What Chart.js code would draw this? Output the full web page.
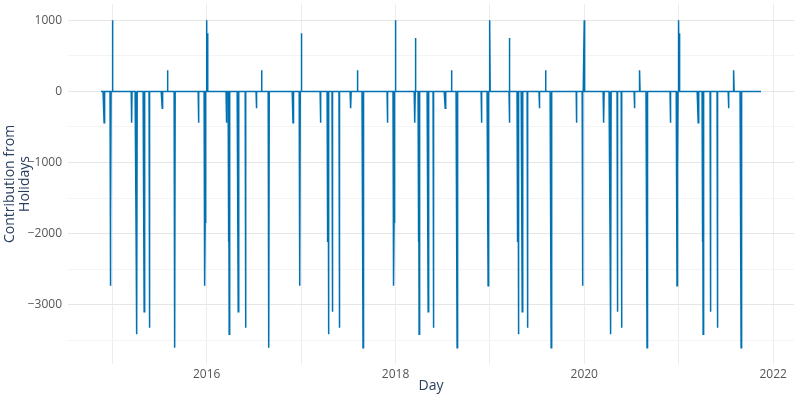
<!DOCTYPE html>
<html>
<head>
<meta charset="utf-8">
<script src="https://cdn.jsdelivr.net/npm/chart.js@4.4.1/dist/chart.umd.min.js"></script>
<style>
  html, body { margin: 0; padding: 0; background: #fff; }
</style>
</head>
<body>
<canvas id="grafico" width="800" height="400"></canvas>
<script>
// daily series runs from firstDay to lastDay, zero on non-holiday days
const firstDay = '2014-11-18';
const lastDay = '2021-11-15';

const holidayNames = [
  "New Year's Day", "New Year Holiday", "St. Patrick's Day", "St. Patrick's Day (Observed)",
  "Good Friday", "Easter Monday", "May Day", "Spring Bank Holiday", "Battle of the Boyne",
  "Summer Bank Holiday [Scotland]", "Late Summer Bank Holiday", "St. Andrew's Day",
  "Christmas Day", "Boxing Day", "Christmas Day (Observed)", "Boxing Day (Observed)"
];
const holidayEffects = [
  1000, 820, -440, 750,
  -2120, -3415, -3100, -3325, -237,
  298, -3608, -440,
  -2735, -1840, -2570, -1150
];
const holidayDates = [
  ['2015-01-01', '2016-01-01', '2018-01-01', '2019-01-01', '2020-01-01', '2021-01-01'],
  ['2016-01-04', '2017-01-02', '2021-01-04'],
  ['2015-03-17', '2016-03-17', '2017-03-17', '2018-03-17', '2019-03-17', '2020-03-17', '2021-03-17'],
  ['2018-03-19', '2019-03-18'],
  ['2015-04-03', '2016-03-25', '2017-04-14', '2018-03-30', '2019-04-19', '2020-04-10', '2021-04-02'],
  ['2015-04-06', '2016-03-28', '2017-04-17', '2018-04-02', '2019-04-22', '2020-04-13', '2021-04-05'],
  ['2015-05-04', '2016-05-02', '2017-05-01', '2018-05-07', '2019-05-06', '2020-05-08', '2021-05-03'],
  ['2015-05-25', '2016-05-30', '2017-05-29', '2018-05-28', '2019-05-27', '2020-05-25', '2021-05-31'],
  ['2015-07-13', '2016-07-12', '2017-07-12', '2018-07-12', '2019-07-12', '2020-07-13', '2021-07-12'],
  ['2015-08-03', '2016-08-01', '2017-08-07', '2018-08-06', '2019-08-05', '2020-08-03', '2021-08-02'],
  ['2015-08-31', '2016-08-29', '2017-08-28', '2018-08-27', '2019-08-26', '2020-08-31', '2021-08-30'],
  ['2014-11-30', '2015-11-30', '2016-11-30', '2017-11-30', '2018-11-30', '2019-12-02', '2020-11-30'],
  ['2014-12-25', '2015-12-25', '2016-12-25', '2017-12-25', '2018-12-25', '2019-12-25', '2020-12-25'],
  ['2014-12-26', '2015-12-26', '2016-12-26', '2017-12-26', '2018-12-26', '2019-12-26', '2020-12-26'],
  ['2016-12-27'],
  ['2015-12-28', '2020-12-28']
];

const gridYears = [2015, 2016, 2017, 2018, 2019, 2020, 2021, 2022];
const labelYears = [2016, 2018, 2020, 2022];
const yGrid = [-3500, -3000, -2500, -2000, -1500, -1000, -500, 0, 500, 1000];
const yLabels = [-3000, -2000, -1000, 0, 1000];

const DIA = 86400000;
const aMs = s => Date.parse(s + 'T00:00:00Z');

const efectoPorDia = new Map();
holidayNames.forEach((nombre, i) => {
  holidayDates[i].forEach(d => {
    const k = aMs(d);
    efectoPorDia.set(k, (efectoPorDia.get(k) || 0) + holidayEffects[i]);
  });
});

const puntos = [];
for (let t = aMs(firstDay); t <= aMs(lastDay); t += DIA) {
  puntos.push({ x: t, y: efectoPorDia.get(t) || 0 });
}

const span = aMs(lastDay) - aMs(firstDay);
const xMin = aMs(firstDay) - span * 0.05;
const xMax = aMs(lastDay) + span * 0.05;

const fuente = "'Open Sans', sans-serif";
const colorTexto = '#2a3f5f';

function sinPadding(axis) {
  axis.paddingTop = 0;
  axis.paddingBottom = 0;
  axis.paddingLeft = 0;
  axis.paddingRight = 0;
}

const ctx = document.getElementById('grafico').getContext('2d');
new Chart(ctx, {
  type: 'line',
  data: {
    datasets: [{
      label: 'holidays',
      data: puntos,
      borderColor: '#0072B2',
      borderWidth: 1.5,
      pointRadius: 0,
      tension: 0,
      fill: false
    }]
  },
  options: {
    responsive: false,
    animation: false,
    parsing: false,
    layout: { padding: { left: 0, right: 6, top: 4, bottom: 0 } },
    plugins: {
      legend: { display: false },
      tooltip: { enabled: false }
    },
    scales: {
      x: {
        type: 'linear',
        min: xMin,
        max: xMax,
        afterBuildTicks: axis => {
          axis.ticks = gridYears.map(y => ({ value: Date.UTC(y, 0, 1) }));
        },
        afterFit: axis => { axis.height = 36; sinPadding(axis); },
        border: { display: false },
        grid: { color: '#ececec', lineWidth: 1, drawTicks: false },
        ticks: {
          autoSkip: false,
          maxRotation: 0,
          padding: 3,
          color: '#555',
          font: { family: fuente, size: 12 },
          callback: v => {
            const y = new Date(v).getUTCFullYear();
            return labelYears.includes(y) ? String(y) : '';
          }
        },
        title: {
          display: true,
          text: 'Day',
          color: colorTexto,
          font: { family: fuente, size: 14 },
          padding: { top: 0, bottom: 6 }
        }
      },
      y: {
        min: -3835,
        max: 1230,
        afterBuildTicks: axis => {
          axis.ticks = yGrid.map(v => ({ value: v }));
        },
        afterFit: axis => { axis.width = 68; sinPadding(axis); },
        border: { display: false },
        grid: {
          drawTicks: false,
          color: c => (yLabels.includes(c.tick.value) ? '#e6e6e6' : '#f4f4f4')
        },
        ticks: {
          autoSkip: false,
          padding: 6,
          color: '#555',
          font: { family: fuente, size: 12 },
          callback: v => (yLabels.includes(v) ? String(v).replace('-', '\u2212') : '')
        },
        title: {
          display: true,
          text: ['Contribution from', 'Holidays'],
          color: colorTexto,
          font: { family: fuente, size: 14, lineHeight: 1.05 },
          padding: { top: 3, bottom: 0 }
        }
      }
    }
  }
});
</script>
</body>
</html>
